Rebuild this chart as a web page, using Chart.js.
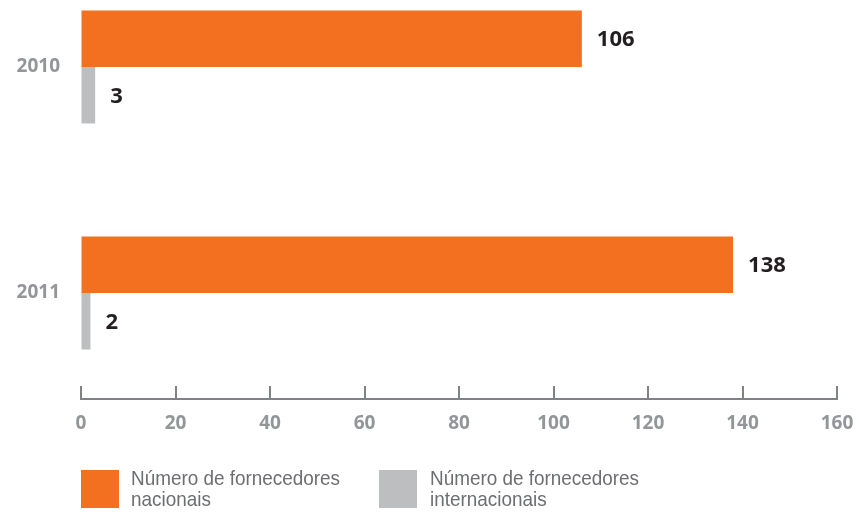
<!DOCTYPE html>
<html>
<head>
<meta charset="utf-8">
<style>
  html, body { margin: 0; padding: 0; background: #fff; }
  #wrap { position: relative; width: 859px; height: 516px; overflow: hidden; }
  #legend { position: absolute; left: 0; top: 0; width: 859px; height: 516px; pointer-events: none; }
  .sw { position: absolute; top: 470px; width: 38px; height: 38px; }
  .lt { position: absolute; top: 467px; white-space: pre-line; color: #6d6e71;
        font-family: "Liberation Sans", Arial, sans-serif;
        font-size: 21px; line-height: 21px;
        transform: scaleX(0.9); transform-origin: 0 0; }
</style>
</head>
<body>
<div id="wrap">
  <canvas id="suppliersChart" width="859" height="516"></canvas>
  <div id="legend"></div>
</div>

<script src="https://cdn.jsdelivr.net/npm/chart.js"></script>
<script>
  // Fornecedores por ano
  const years = ['2010', '2011'];
  const nacionais = [106, 138];
  const internacionais = [3, 2];
  const xTicks = [0, 20, 40, 60, 80, 100, 120, 140, 160];
  const seriesNames = ['Número de fornecedores\nnacionais', 'Número de fornecedores\ninternacionais'];
  const seriesColors = ['#f37021', '#bcbec0'];

  const axisGrey = '#808285';

  // short upward tick marks on the bottom axis
  const axisTicks = {
    id: 'axisTicks',
    afterDraw(chart) {
      const sx = chart.scales.x;
      const ctx = chart.ctx;
      ctx.save();
      ctx.strokeStyle = axisGrey;
      ctx.lineWidth = 2;
      sx.ticks.forEach(t => {
        const px = Math.round(sx.getPixelForValue(t.value));
        ctx.beginPath();
        ctx.moveTo(px, sx.top);
        ctx.lineTo(px, sx.top - 13);
        ctx.stroke();
      });
      ctx.restore();
    }
  };

  // value at the end of each bar
  const barValues = {
    id: 'barValues',
    afterDatasetsDraw(chart) {
      const ctx = chart.ctx;
      ctx.save();
      ctx.font = 'bold 22px "Open Sans", sans-serif';
      ctx.fillStyle = '#231f20';
      ctx.textAlign = 'left';
      ctx.textBaseline = 'middle';
      chart.data.datasets.forEach((ds, i) => {
        chart.getDatasetMeta(i).data.forEach((bar, j) => {
          ctx.fillText(String(ds.data[j]), bar.x + 15, bar.y + 1);
        });
      });
      ctx.restore();
    }
  };

  const ctx = document.getElementById('suppliersChart').getContext('2d');
  new Chart(ctx, {
    type: 'bar',
    data: {
      labels: years,
      datasets: [
        { label: seriesNames[0], data: nacionais, backgroundColor: seriesColors[0] },
        { label: seriesNames[1], data: internacionais, backgroundColor: seriesColors[1] }
      ]
    },
    options: {
      indexAxis: 'y',
      responsive: false,
      animation: false,
      events: [],
      categoryPercentage: 0.5,
      barPercentage: 1,
      layout: { padding: { top: 0, right: 22, left: 0, bottom: 0 } },
      plugins: {
        legend: { display: false },
        tooltip: { enabled: false }
      },
      scales: {
        x: {
          type: 'linear',
          min: xTicks[0],
          max: xTicks[xTicks.length - 1],
          afterBuildTicks: s => { s.ticks = xTicks.map(v => ({ value: v })); },
          afterFit: s => { s.height = 117; s.paddingLeft = 0; s.paddingRight = 0; },
          grid: { display: true, drawOnChartArea: false, drawTicks: false },
          border: { display: true, color: axisGrey, width: 2 },
          ticks: {
            padding: 13,
            color: '#939598',
            font: { family: '"Open Sans", sans-serif', size: 19, weight: 'bold' }
          }
        },
        y: {
          type: 'linear',
          reverse: true,
          offset: false,
          // leaves the 2010 / 2011 rows at their place above the axis
          min: 2009.7035,
          max: 2011.469,
          afterBuildTicks: s => { s.ticks = years.map(v => ({ value: +v })); },
          afterFit: s => { s.width = 81; s.paddingTop = 0; s.paddingBottom = 0; },
          grid: { display: false, drawTicks: false },
          border: { display: false },
          ticks: {
            padding: 21,
            color: '#939598',
            callback: v => String(v),
            font: { family: '"Open Sans", sans-serif', size: 19, weight: 'bold' }
          }
        }
      }
    },
    plugins: [axisTicks, barValues]
  });

  // legend below the axis
  const legend = document.getElementById('legend');
  const swatchLeft = [81, 379];
  const textLeft = [131, 430];
  seriesNames.forEach((name, i) => {
    const sw = document.createElement('div');
    sw.className = 'sw';
    sw.style.left = swatchLeft[i] + 'px';
    sw.style.background = seriesColors[i];
    const lt = document.createElement('div');
    lt.className = 'lt';
    lt.style.left = textLeft[i] + 'px';
    lt.textContent = name;
    legend.appendChild(sw);
    legend.appendChild(lt);
  });
</script>
</body>
</html>
